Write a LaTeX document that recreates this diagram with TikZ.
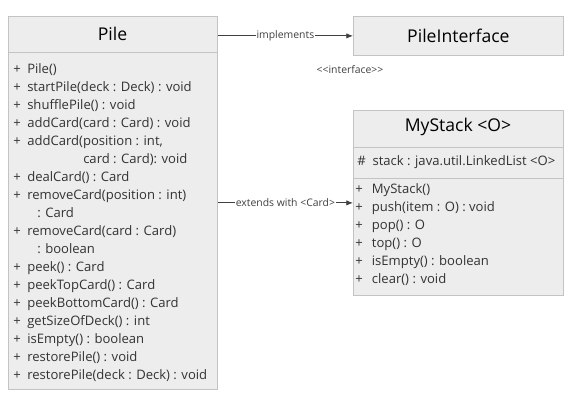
\documentclass[tikz,border=0pt]{standalone}
\usepackage{fontspec}
\setmainfont{Open Sans}
\usetikzlibrary{positioning, arrows.meta}
\definecolor{umlFill}{HTML}{EDEDED}
\definecolor{umlBorder}{HTML}{C3C3C3}
\definecolor{umlText}{HTML}{333333}
\definecolor{umlArrow}{HTML}{404040}
\newcommand{\umlop}[2][10.5pt]{\makebox[#1][l]{+}#2}
\tikzset{
    umlBox/.style={
        rectangle,
        draw=umlBorder,
        fill=umlFill,
        line width=0.6pt,
        inner sep=0pt
    },
    umlTitle/.style={font=\fontsize{13.2}{15}\selectfont, text=black, inner sep=0pt},
    umlBody/.style={
        font=\fontsize{9.8}{13.5}\selectfont,
        text=umlText,
        align=left,
        anchor=north west,
        inner sep=0pt
    },
    umlRule/.style={draw=umlBorder, line width=0.6pt},
    % Arrows
    umlArrowBase/.style={-{Latex[length=5pt,width=4pt]}, draw=umlArrow, line width=0.6pt},
    umlLabel/.style={font=\fontsize{7.8}{9}\selectfont, text=umlArrow, fill=white, inner sep=0.8pt}
}

\begin{document}
\begin{tikzpicture}[x=0.75pt, y=-0.75pt]
    \useasboundingbox (0,0) rectangle (572,406);

    % Pile class
    \node[umlBox, anchor=north west, minimum width=209*0.75pt, minimum height=373*0.75pt] (pile) at (8,16) {};
    \node[umlTitle] (piletitle) at (112.5,34) {Pile};
    \draw[umlRule] (8,52) -- (217,52);
    \node[umlBody] (pileops) at (13,63) {\umlop{Pile()}\\
        \umlop{startPile(deck : Deck) : void}\\
        \umlop{shufflePile() : void}\\
        \umlop{addCard(card : Card) : void}\\
        \umlop{addCard(position : int,}\\
        \hspace*{52.5pt}card : Card): void\\
        \umlop{dealCard() : Card}\\
        \umlop{removeCard(position : int)}\\
        \hspace*{18pt}: Card\\
        \umlop{removeCard(card : Card)}\\
        \hspace*{18pt}: boolean\\
        \umlop{peek() : Card}\\
        \umlop{peekTopCard() : Card}\\
        \umlop{peekBottomCard() : Card}\\
        \umlop{getSizeOfDeck() : int}\\
        \umlop{isEmpty() : boolean}\\
        \umlop{restorePile() : void}\\
        \umlop{restorePile(deck : Deck) : void}};

    % Interface
    \node[umlBox, umlTitle, anchor=north west, minimum width=210*0.75pt, minimum height=39*0.75pt] (pileiface) at (353,16) {PileInterface};
    \node[umlLabel, fill=none] (ifacestereo) at (350,70) {{<}{<}interface{>}{>}};

    % MyStack class
    \node[umlBox, anchor=north west, minimum width=210*0.75pt, minimum height=185*0.75pt] (mystack) at (353,110) {};
    \node[umlTitle] (mystacktitle) at (458,127) {MyStack <O>};
    \draw[umlRule] (353,147) -- (563,147);
    \node[umlBody] (mystackattr) at (357,155) {\makebox[11.5pt][l]{\#}stack : java.util.LinkedList <O>};
    \draw[umlRule] (353,178) -- (563,178);
    \node[umlBody] (mystackops) at (355,183) {\umlop[12.5pt]{MyStack()}\\
        \umlop[12.5pt]{push(item : O) : void}\\
        \umlop[12.5pt]{pop() : O}\\
        \umlop[12.5pt]{top() : O}\\
        \umlop[12.5pt]{isEmpty() : boolean}\\
        \umlop[12.5pt]{clear() : void}};

    \draw[umlArrowBase] (pile.east |- pileiface.west) -- node[umlLabel] (implabel) {implements} (pileiface.west);
    \draw[umlArrowBase] (pile.east) -- node[umlLabel] (extlabel) {extends with <Card>} (pile.east -| mystack.west);
\end{tikzpicture}
\end{document}
